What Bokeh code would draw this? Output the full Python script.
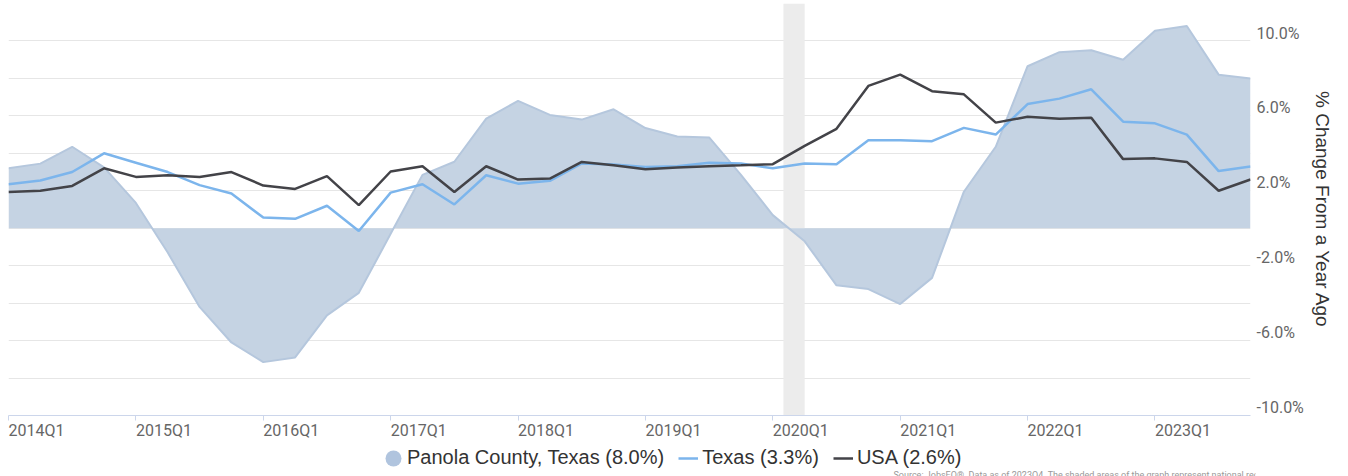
from bokeh.plotting import figure
from bokeh.layouts import column
from bokeh.models import (ColumnDataSource, FixedTicker, CustomJSTickFormatter, BoxAnnotation,
                          Legend, LegendItem, Label, Range1d)
from bokeh.embed import file_html
from bokeh.resources import INLINE

# ---------------- data ----------------
quarters = [f"{y}Q{q}" for y in range(2014, 2024) for q in range(1, 5)]

panola = [3.2, 3.45, 4.35, 3.25, 1.35, -1.3, -4.2, -6.1, -7.15, -6.9,
          -4.65, -3.45, -0.3, 2.85, 3.55, 5.85, 6.8, 6.05, 5.8, 6.35,
          5.35, 4.9, 4.85, 2.85, 0.7, -0.7, -3.05, -3.25, -4.05, -2.65,
          1.95, 4.35, 8.65, 9.4, 9.5, 9.0, 10.55, 10.8, 8.2, 8.0]
texas = [2.35, 2.55, 3.0, 4.0, 3.5, 3.0, 2.3, 1.85, 0.57, 0.5,
         1.2, -0.15, 1.9, 2.35, 1.27, 2.83, 2.38, 2.53, 3.46, 3.4,
         3.27, 3.31, 3.5, 3.46, 3.2, 3.46, 3.42, 4.7, 4.7, 4.65,
         5.36, 5.0, 6.63, 6.92, 7.42, 5.69, 5.6, 5.0, 3.05, 3.3]
usa = [1.94, 2.0, 2.26, 3.2, 2.74, 2.83, 2.74, 3.0, 2.28, 2.1,
       2.78, 1.23, 3.03, 3.31, 1.93, 3.31, 2.6, 2.65, 3.54, 3.36,
       3.15, 3.24, 3.31, 3.36, 3.42, 4.4, 5.31, 7.6, 8.2, 7.32,
       7.15, 5.64, 5.95, 5.84, 5.9, 3.69, 3.73, 3.54, 2.0, 2.6]

recession = ("2020-02", "2020-04")  # national recession (month start .. month start)
y_labels = [-10, -6, -2, 2, 6, 10]
source_note = ("Source: JobsEQ\u00ae. Data as of 2023Q4. The shaded areas of the graph "
               "represent national recessions.")

COL_AREA, COL_AREA_EDGE, COL_DOT = "#c5d3e3", "#b5c7dd", "#b0c4de"
COL_TX, COL_US = "#7cb5ec", "#434348"


def month_to_q(s):
    yy, mm = s.split("-")
    return ((int(yy) - 2014) * 12 + (int(mm) - 1)) / 3.0


x = list(range(len(quarters)))
src = ColumnDataSource(dict(x=x, panola=panola, texas=texas, usa=usa))

# ---------------- main chart ----------------
p = figure(height=446, frame_width=1242,
           x_range=Range1d(0, len(quarters) - 1), y_range=Range1d(-10, 12),
           y_axis_location="right", output_backend="svg", toolbar_location=None,
           min_border_left=8, min_border_top=3, min_border_bottom=31, min_border_right=0)
p.outline_line_color = None
p.background_fill_color = "white"

band = BoxAnnotation(left=month_to_q(recession[0]), right=month_to_q(recession[1]),
                     fill_color="#ececec", fill_alpha=1.0, line_alpha=0, level="underlay")
p.add_layout(band)

p.varea(x="x", y1=0, y2="panola", source=src, fill_color=COL_AREA, fill_alpha=1.0)
p.line("x", "panola", source=src, line_color=COL_AREA_EDGE, line_width=2)
p.line("x", "texas", source=src, line_color=COL_TX, line_width=2.5)
p.line("x", "usa", source=src, line_color=COL_US, line_width=2.5)

# grid
p.xgrid.visible = False
p.ygrid.ticker = FixedTicker(ticks=list(range(-10, 13, 2)))
p.ygrid.grid_line_color = "#e6e6e6"
p.ygrid.grid_line_width = 1

# y axis (right): labels sit just above their grid lines
YSHIFT = 0.42
ya = p.yaxis[0]
ya.ticker = FixedTicker(ticks=[v + YSHIFT for v in y_labels])
ya.formatter = CustomJSTickFormatter(args=dict(s=YSHIFT),
                                     code="return (tick - s).toFixed(1) + '%';")
ya.axis_line_color = None
ya.major_tick_line_color = None
ya.minor_tick_line_color = None
ya.major_tick_out = 0
ya.major_label_standoff = 6
ya.major_label_text_font = "Roboto"
ya.major_label_text_font_size = "16px"
ya.major_label_text_color = "#666666"
ya.axis_label = "% Change From a Year Ago"
ya.axis_label_text_font = "Liberation Sans"
ya.axis_label_text_font_size = "19px"
ya.axis_label_text_font_style = "normal"
ya.axis_label_text_color = "#333333"
ya.axis_label_standoff = 5

# x axis: tick marks at year starts (minor), labels left-aligned to them (major)
XSHIFT = 0.88
year_idx = list(range(0, len(quarters), 4))
xa = p.xaxis[0]
xa.ticker = FixedTicker(ticks=[i + XSHIFT for i in year_idx], minor_ticks=year_idx)
xa.formatter = CustomJSTickFormatter(args=dict(labels=quarters, s=XSHIFT),
                                     code="return labels[Math.round(tick - s)];")
xa.axis_line_color = "#ccd6eb"
xa.major_tick_line_color = None
xa.major_tick_out = 0
xa.major_tick_in = 0
xa.minor_tick_line_color = "#ccd6eb"
xa.minor_tick_out = 5
xa.minor_tick_in = 0
xa.major_label_standoff = 0
xa.major_label_text_font = "Roboto"
xa.major_label_text_font_size = "16px"
xa.major_label_text_color = "#666666"

# ---------------- legend strip ----------------
q = figure(width=1340, height=30, x_range=Range1d(-100, -90), y_range=Range1d(-100, -90),
           x_axis_type=None, y_axis_type=None, output_backend="svg", toolbar_location=None,
           min_border_left=0, min_border_right=0, min_border_top=0, min_border_bottom=0)
q.outline_line_color = None
q.grid.visible = False
dot = q.ellipse("x", "panola", source=src, width=0.5, height=0.5,
                width_units="screen", height_units="screen",
                fill_color=COL_DOT, line_color=None)
tx = q.line("x", "texas", source=src, line_color=COL_TX, line_width=2.5)
us = q.line("x", "usa", source=src, line_color=COL_US, line_width=2.5)

legend = Legend(items=[LegendItem(label=f"Panola County, Texas ({panola[-1]:.1f}%)", renderers=[dot]),
                       LegendItem(label=f"Texas ({texas[-1]:.1f}%)", renderers=[tx]),
                       LegendItem(label=f"USA ({usa[-1]:.1f}%)", renderers=[us])],
                location=(375, 7), orientation="horizontal", glyph_width=20, glyph_height=20,
                label_standoff=4, spacing=14, padding=0, margin=0, border_line_alpha=0,
                background_fill_alpha=0, label_text_font="Liberation Sans",
                label_text_font_size="20px", label_text_color="#333333")
q.add_layout(legend)

note = Label(x=885, y=7, x_units="screen", y_units="screen", text=source_note,
             text_font="Roboto", text_font_size="9px", text_color="#999999",
             text_baseline="top")
q.add_layout(note)

layout = column(p, q, spacing=0)
open("out.html", "w").write(file_html(layout, INLINE))
